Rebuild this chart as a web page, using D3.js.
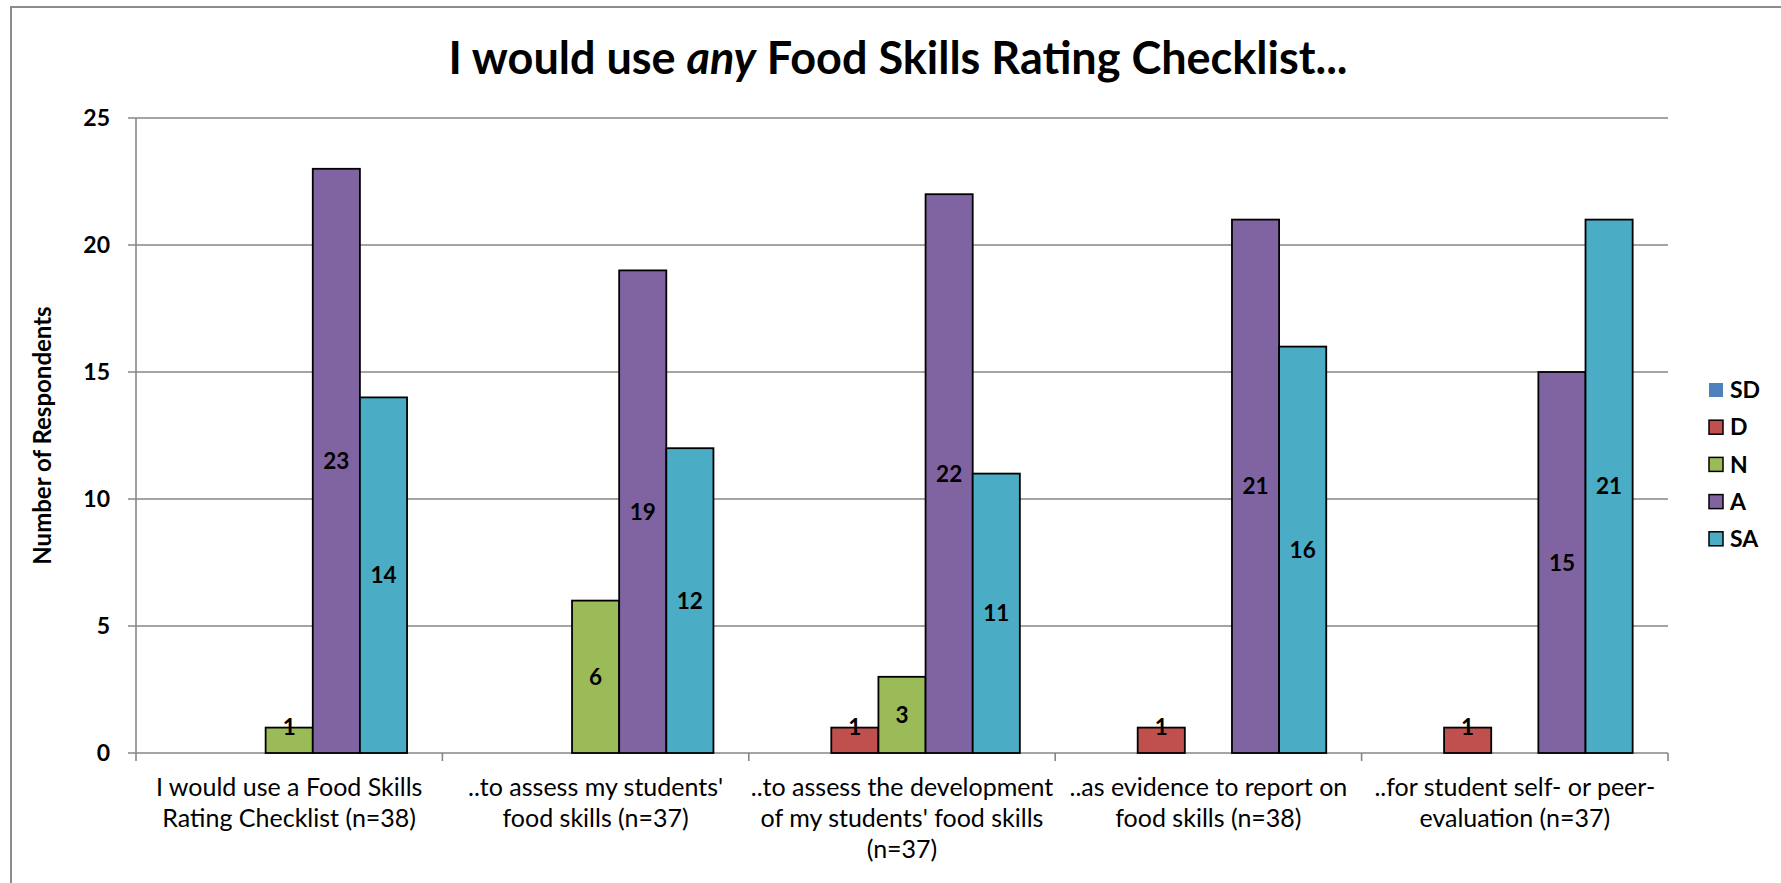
<!DOCTYPE html>
<html><head><meta charset="utf-8">
<script src="https://cdn.jsdelivr.net/npm/d3@7"></script>
<style>
html,body{margin:0;padding:0;background:#fff;}
svg{display:block;font-family:Lato,"Open Sans",sans-serif;}
</style></head>
<body>
<svg id="chart" width="1781" height="883"></svg>
<script>
const categories = [
  ["I would use a Food Skills", "Rating Checklist (n=38)"],
  ["..to assess my students'", "food skills (n=37)"],
  ["..to assess the development", "of my students' food skills", "(n=37)"],
  ["..as evidence to report on", "food skills (n=38)"],
  ["..for student self- or peer-", "evaluation (n=37)"]
];
const seriesNames = ["SD", "D", "N", "A", "SA"];
const SD = [0, 0, 0, 0, 0];
const D  = [0, 0, 1, 1, 1];
const N  = [1, 6, 3, 0, 0];
const A  = [23, 19, 22, 21, 15];
const SA = [14, 12, 11, 16, 21];
const yTicks = [0, 5, 10, 15, 20, 25];
const colors = ["#4F81BD", "#C0504D", "#9BBB59", "#8064A2", "#4BACC6"];
const outlined = [false, true, true, true, true];

const seriesValues = [SD, D, N, A, SA];

const svg = d3.select("#chart");
const W = 1781, H = 883;
const m = {left: 136, right: 1668, top: 118, bottom: 753};

// outer border
svg.append("rect").attr("x", 11).attr("y", 7).attr("width", W).attr("height", H)
  .attr("fill", "none").attr("stroke", "#8c8c8c").attr("stroke-width", 2);

const x0 = d3.scaleBand().domain(d3.range(categories.length)).range([m.left, m.right]).paddingInner(0).paddingOuter(0);
const x1 = d3.scaleBand().domain(seriesNames).range([0, x0.bandwidth()]).paddingInner(0).paddingOuter(0.75);
const y = d3.scaleLinear().domain([0, 25]).range([m.bottom, m.top]);

// gridlines
svg.append("g").selectAll("line").data(yTicks).join("line")
  .attr("x1", m.left - 8).attr("x2", m.right)
  .attr("y1", d => y(d)).attr("y2", d => y(d))
  .attr("stroke", "#868686").attr("stroke-width", 1.6);

// y axis line
svg.append("line").attr("x1", m.left).attr("x2", m.left)
  .attr("y1", m.top).attr("y2", m.bottom + 8)
  .attr("stroke", "#868686").attr("stroke-width", 1.6);

// category tick marks
svg.append("g").selectAll("line").data(d3.range(1, categories.length + 1)).join("line")
  .attr("x1", d => m.left + d * x0.bandwidth()).attr("x2", d => m.left + d * x0.bandwidth())
  .attr("y1", m.bottom).attr("y2", m.bottom + 8)
  .attr("stroke", "#868686").attr("stroke-width", 1.6);

// y tick labels
svg.append("g").selectAll("text").data(yTicks).join("text")
  .attr("x", 110).attr("y", d => y(d)).attr("dy", "0.36em")
  .attr("text-anchor", "end").attr("font-weight", "bold").attr("font-size", 23)
  .text(d => d);

// bars
const groups = svg.append("g").selectAll("g").data(categories).join("g")
  .attr("transform", (d, i) => `translate(${x0(i)},0)`);

groups.each(function(c, ci) {
  const g = d3.select(this);
  seriesNames.forEach((s, si) => {
    const v = seriesValues[si][ci];
    if (v <= 0) return;
    g.append("rect")
      .attr("x", x1(s)).attr("width", x1.bandwidth())
      .attr("y", y(v)).attr("height", y(0) - y(v))
      .attr("fill", colors[si])
      .attr("stroke", outlined[si] ? "#000" : "none").attr("stroke-width", 1.8);
  });
  seriesNames.forEach((s, si) => {
    const v = seriesValues[si][ci];
    if (v <= 0) return;
    const cy = Math.min((y(v) + y(0)) / 2, y(0) - 26);
    g.append("text")
      .attr("x", x1(s) + x1.bandwidth() / 2).attr("y", cy).attr("dy", "0.36em")
      .attr("text-anchor", "middle").attr("font-weight", "bold").attr("font-size", 22.5)
      .attr("fill", "#000").text(v);
  });
  // category labels
  const t = g.append("text").attr("text-anchor", "middle").attr("font-size", 25).attr("fill", "#000");
  c.forEach((line, li) => {
    t.append("tspan").attr("x", x0.bandwidth() / 2).attr("y", 796 + li * 31).text(line);
  });
});

// title
const title = svg.append("text").attr("x", 898).attr("y", 74)
  .attr("text-anchor", "middle").attr("font-weight", "bold").attr("font-size", 45);
title.append("tspan").text("I would use ");
title.append("tspan").attr("font-style", "italic").text("any");
title.append("tspan").text(" Food Skills Rating Checklist...");

// y axis title
svg.append("text").attr("transform", `translate(51,${(m.top + m.bottom) / 2}) rotate(-90)`)
  .attr("text-anchor", "middle").attr("font-weight", "bold").attr("font-size", 24)
  .text("Number of Respondents");

// legend
const lg = svg.append("g").selectAll("g").data(seriesNames).join("g")
  .attr("transform", (d, i) => `translate(1709,${390 + i * 37.2})`);
lg.append("rect").attr("x", 0).attr("y", -7).attr("width", 14).attr("height", 14)
  .attr("fill", (d, i) => colors[i])
  .attr("stroke", (d, i) => outlined[i] ? "#000" : "none").attr("stroke-width", 1.5);
lg.append("text").attr("x", 21).attr("y", 0).attr("dy", "0.36em")
  .attr("font-weight", "bold").attr("font-size", 23).text(d => d);
</script>
</body></html>
